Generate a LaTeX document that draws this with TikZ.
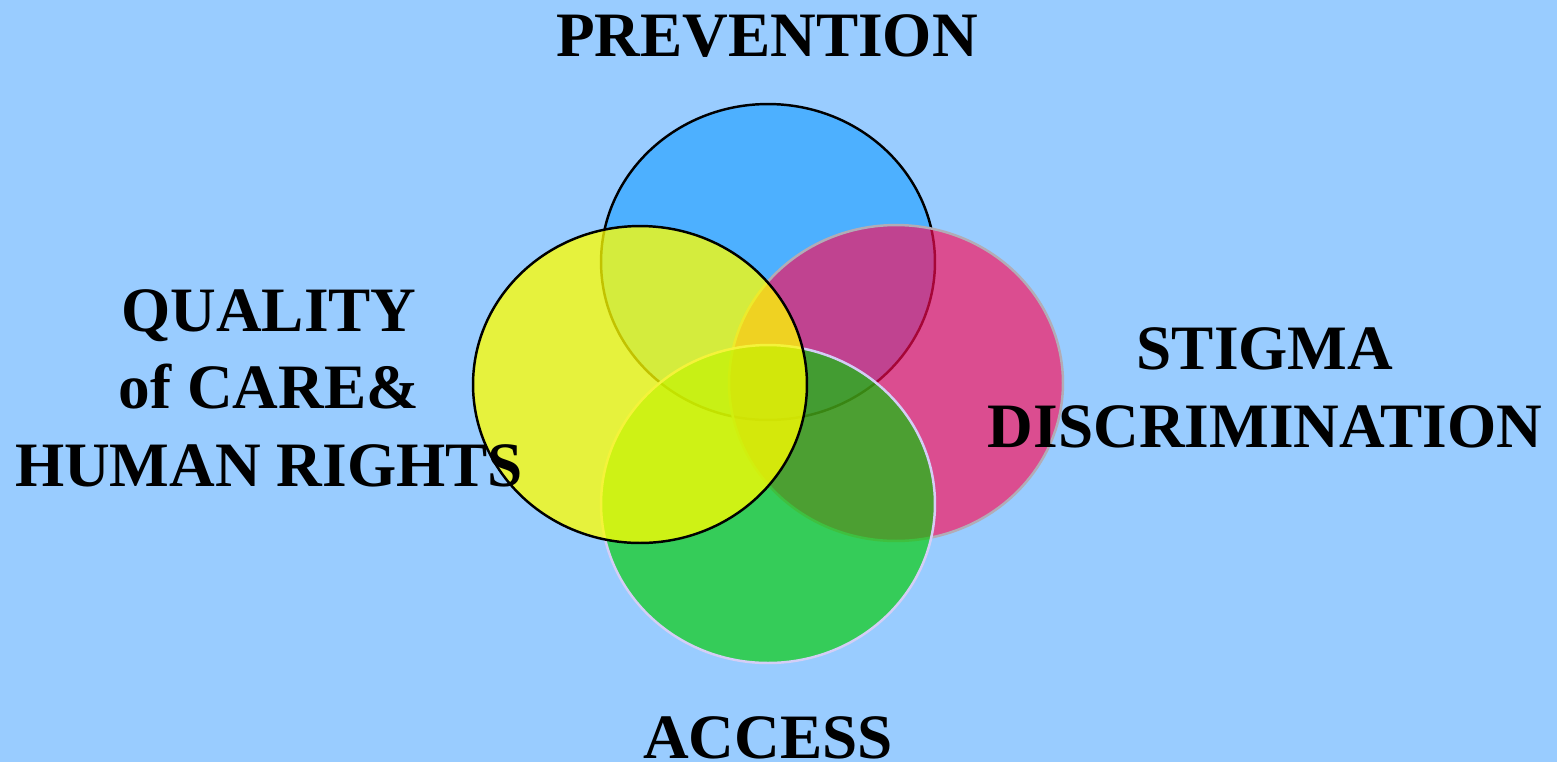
\documentclass[tikz,border=0pt]{standalone}
\usepackage{fontspec}
\setmainfont{Liberation Serif}
\definecolor{bgblue}{RGB}{153,204,255}
\definecolor{prevblue}{RGB}{77,176,255}
\definecolor{stigpink}{RGB}{255,10,85}
\definecolor{accgreen}{RGB}{0,204,0}
\definecolor{qualyellow}{RGB}{255,255,0}
\definecolor{pinkline}{RGB}{178,172,182}
\definecolor{greenline}{RGB}{212,206,246}
\tikzset{
  bigword/.style={font=\fontsize{36}{44}\selectfont\bfseries, align=center},
  ring/.style={line width=1.4pt},
}

\begin{document}
\begin{tikzpicture}[x=0.02cm, y=0.02cm]
		\tikzstyle{every node}+=[inner sep=0pt]
		\fill [bgblue] (0,0) rectangle (1557,-762);
		\useasboundingbox (0,0) rectangle (1557,-762);
		\draw [black, ring, fill=prevblue] (768,-262) ellipse (3.34cm and 3.16cm);
		\draw [pinkline, ring, fill=stigpink, fill opacity=0.65] (896,-383) ellipse (3.34cm and 3.16cm);
		\draw [greenline, ring, fill=accgreen, fill opacity=0.65] (768,-504) ellipse (3.34cm and 3.18cm);
		\draw [black, ring, fill=qualyellow, fill opacity=0.76] (640,-384.5) ellipse (3.34cm and 3.17cm);
		\node (prevention) at (767,-56) [anchor=base, bigword] {PREVENTION};
		\node (quality) at (269,-486) [anchor=base, bigword] {QUALITY\\of CARE\&\\HUMAN RIGHTS};
		\node (stigma) at (1265,-447) [anchor=base, bigword] {STIGMA\\DISCRIMINATION};
		\node (access) at (768,-758) [anchor=base, bigword] {ACCESS};
	\end{tikzpicture}
\end{document}
